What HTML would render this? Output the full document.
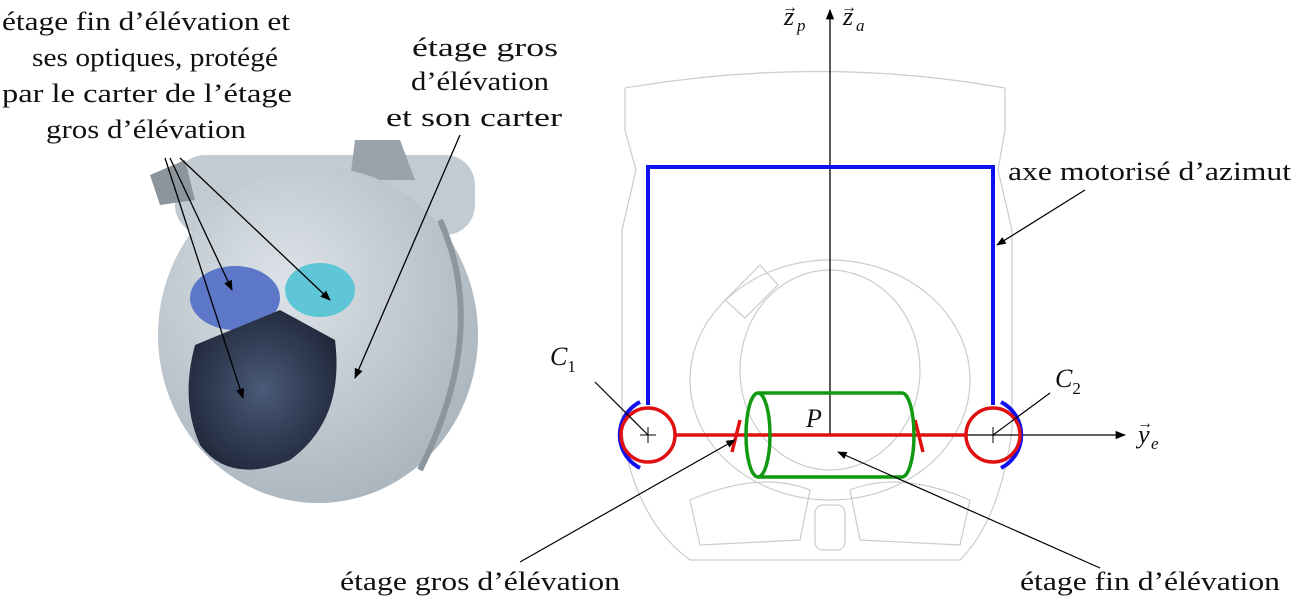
<!DOCTYPE html>
<html><head><meta charset="utf-8"><style>
body{margin:0;background:#fff;width:1292px;height:611px;overflow:hidden}
text{font-family:"Liberation Serif",serif;font-size:26px;fill:#111}
.sub{font-size:17px}
.vec{font-size:16px}
</style></head><body>
<svg width="1292" height="611" viewBox="0 0 1292 611" xmlns="http://www.w3.org/2000/svg">
<defs>
<marker id="ah" viewBox="0 0 10 10" refX="9" refY="5" markerWidth="8" markerHeight="8" orient="auto"><path d="M0,1 L10,5 L0,9 z" fill="#000"/></marker>
<radialGradient id="bodyg" cx="0.4" cy="0.35" r="0.7"><stop offset="0" stop-color="#dde3e8"/><stop offset="1" stop-color="#a9b4bd"/></radialGradient>
<radialGradient id="win" cx="0.5" cy="0.5" r="0.6"><stop offset="0" stop-color="#4a5a78"/><stop offset="1" stop-color="#1d2436"/></radialGradient>
</defs>
<g>
<rect x="175" y="155" width="300" height="80" rx="30" fill="#c3cbd2"/>
<polygon points="355,140 400,140 415,180 350,180" fill="#9aa3ab"/>
<polygon points="150,175 185,160 195,200 160,205" fill="#8d959c"/>
<ellipse cx="318" cy="335" rx="160" ry="168" fill="url(#bodyg)"/>
<path d="M440,220 Q490,330 420,470" stroke="#8c969f" stroke-width="6" fill="none"/>
<ellipse cx="235" cy="298" rx="45" ry="32" fill="#5d77c9"/>
<ellipse cx="320" cy="290" rx="35" ry="27" fill="#5ec6d6"/>
<path d="M195,345 L280,310 L335,340 Q345,420 290,460 Q230,485 200,445 Q180,400 195,345 Z" fill="url(#win)"/>
</g>
<g>
<text x="2" y="30" textLength="288" lengthAdjust="spacingAndGlyphs">étage fin d’élévation et</text>
<text x="32" y="66" textLength="246" lengthAdjust="spacingAndGlyphs">ses optiques, protégé</text>
<text x="2" y="102" textLength="290" lengthAdjust="spacingAndGlyphs">par le carter de l’étage</text>
<text x="46" y="138" textLength="200" lengthAdjust="spacingAndGlyphs">gros d’élévation</text>
<text x="412" y="56" textLength="146" lengthAdjust="spacingAndGlyphs">étage gros</text>
<text x="411" y="90" textLength="138" lengthAdjust="spacingAndGlyphs">d’élévation</text>
<text x="386" y="126" textLength="176" lengthAdjust="spacingAndGlyphs">et son carter</text>
</g>
<g stroke="#000" stroke-width="1.3" marker-end="url(#ah)">
<line x1="165" y1="158" x2="243" y2="398"/>
<line x1="170" y1="158" x2="232" y2="290"/>
<line x1="180" y1="158" x2="330" y2="300"/>
<line x1="460" y1="135" x2="355" y2="378"/>
</g>
<g stroke="#ccc" stroke-width="1.2" fill="none">
<path d="M625,88 Q820,55 1005,88 L1005,130 L998,170 L1012,230 L1012,430 Q1000,520 960,560 L690,560 Q635,520 622,430 L622,230 L636,170 L625,130 Z"/>
<ellipse cx="830" cy="370" rx="90" ry="100"/>
<ellipse cx="830" cy="380" rx="140" ry="120"/>
<path d="M690,500 Q760,470 810,490 L800,540 L700,545 Z"/>
<path d="M850,490 Q900,470 970,500 L960,545 L860,540 Z"/>
<rect x="815" y="505" width="30" height="45" rx="8"/>
<path d="M725,300 L760,265 L778,285 L745,318 Z"/>
</g>
<g stroke="#000" stroke-width="1.3">
<line x1="830" y1="435" x2="830" y2="10" marker-end="url(#ah)"/>
<line x1="830" y1="435" x2="1125" y2="435" marker-end="url(#ah)"/>
</g>
<g>
<text x="784" y="25" font-style="italic">z</text><text x="782" y="12" class="vec">→</text><text x="797" y="31" class="sub" font-style="italic">p</text>
<text x="843" y="25" font-style="italic">z</text><text x="841" y="12" class="vec">→</text><text x="856" y="31" class="sub" font-style="italic">a</text>
</g>
<g>
<text x="1138" y="443" font-style="italic">y</text><text x="1137" y="428" class="vec">→</text><text x="1151" y="449" class="sub" font-style="italic">e</text>
</g>
<g stroke="#1010ee" stroke-width="4" fill="none">
<polyline points="648,405 648,167 993,167 993,405"/>
<path d="M640,468 A37,37 0 0 1 640,402"/>
<path d="M1001,402 A37,37 0 0 1 1001,468"/>
</g>
<g stroke="#e01010" stroke-width="3.5" fill="none">
<circle cx="648" cy="435" r="27"/>
<circle cx="993" cy="435" r="27"/>
<line x1="675" y1="435" x2="830" y2="435"/>
<line x1="830" y1="435" x2="966" y2="435"/>
<line x1="740" y1="420" x2="732" y2="452"/>
<line x1="915" y1="420" x2="923" y2="452"/>
</g>
<g stroke="#000" stroke-width="1"><line x1="640" y1="435" x2="656" y2="435"/><line x1="648" y1="427" x2="648" y2="443"/><line x1="993" y1="427" x2="993" y2="443"/></g>
<g stroke="#119911" stroke-width="3.5" fill="none">
<ellipse cx="758" cy="435" rx="12" ry="42"/>
<path d="M758,393 L902,393 A12,42 0 0 1 902,477 L758,477"/>
</g>
<text x="806" y="427" font-style="italic">P</text>
<text x="550" y="365" font-style="italic">C<tspan class="sub" dy="7" font-style="normal">1</tspan></text>
<text x="1055" y="387" font-style="italic">C<tspan class="sub" dy="7" font-style="normal">2</tspan></text>
<g stroke="#000" stroke-width="1.2">
<line x1="595" y1="382" x2="648" y2="435"/>
<line x1="1050" y1="393" x2="993" y2="435"/>
</g>
<text x="1008" y="180" textLength="283" lengthAdjust="spacingAndGlyphs">axe motorisé d’azimut</text>
<text x="340" y="590" textLength="280" lengthAdjust="spacingAndGlyphs">étage gros d’élévation</text>
<text x="1020" y="590" textLength="260" lengthAdjust="spacingAndGlyphs">étage fin d’élévation</text>
<g stroke="#000" stroke-width="1.2" marker-end="url(#ah)">
<line x1="1085" y1="190" x2="997" y2="245"/>
<line x1="520" y1="562" x2="735" y2="440"/>
<line x1="1100" y1="568" x2="838" y2="452"/>
</g>
</svg>
</body></html>
